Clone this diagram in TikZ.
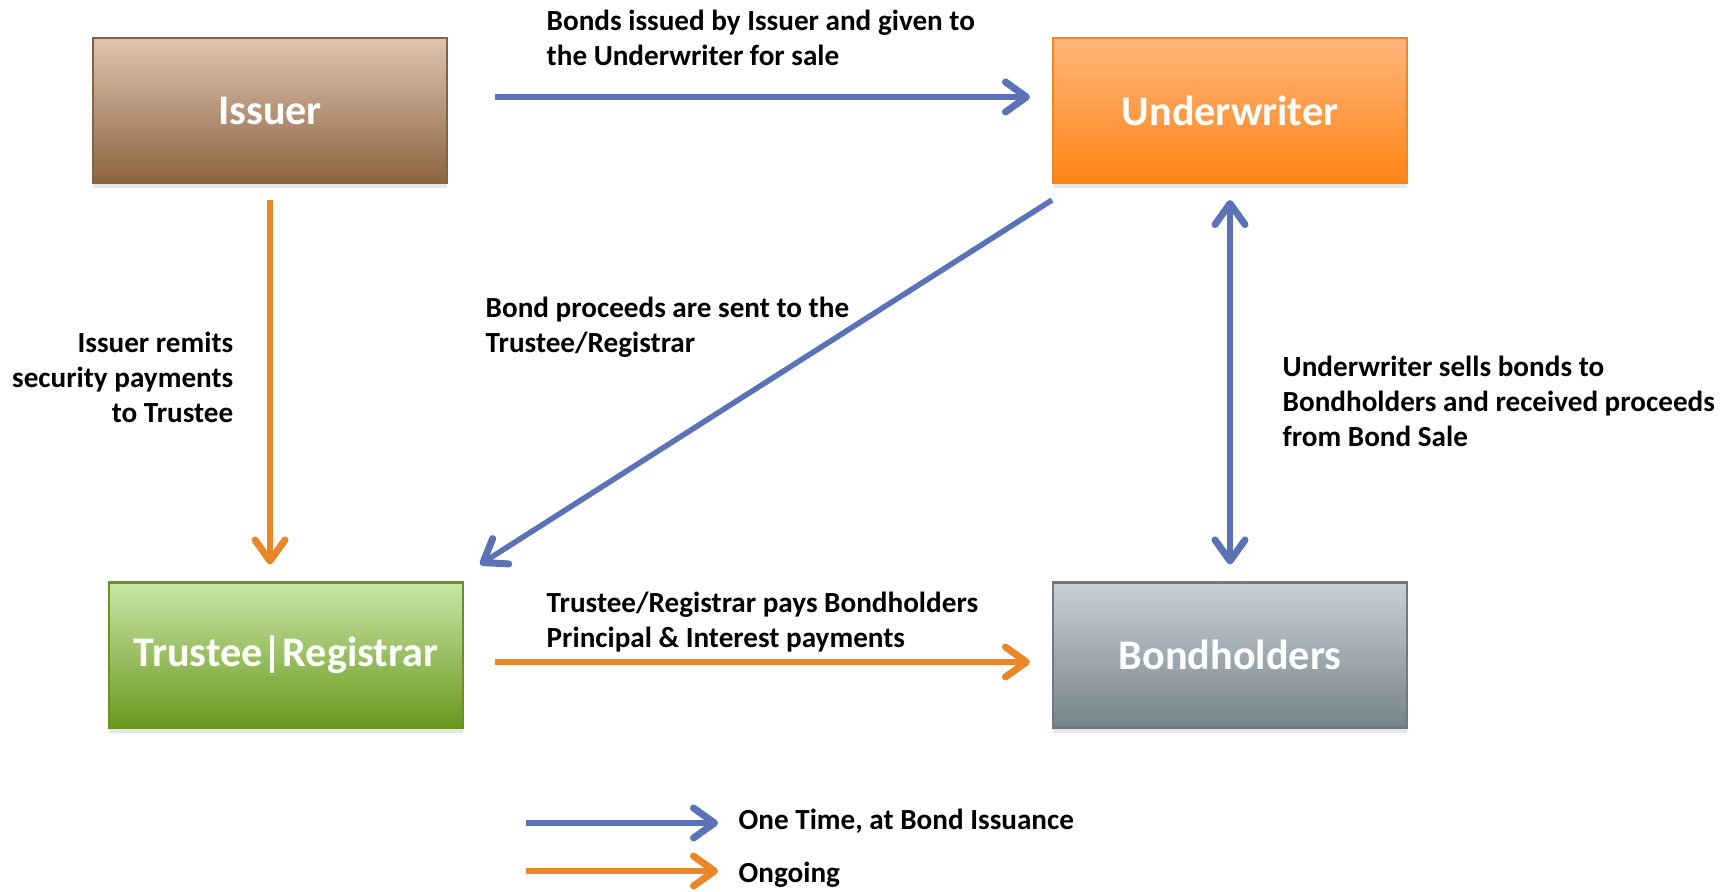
\documentclass[tikz,border=0pt]{standalone}
\usepackage{fontspec}
\setmainfont{Carlito}
\usetikzlibrary{arrows.meta,shadows,positioning}

\definecolor{onceblue}{RGB}{92,114,182}
\definecolor{ongoingorange}{RGB}{232,134,40}
\definecolor{issuertop}{RGB}{223,196,177}
\definecolor{issuerbot}{RGB}{140,100,63}
\definecolor{issuerline}{RGB}{135,98,62}
\definecolor{undertop}{RGB}{255,181,124}
\definecolor{underbot}{RGB}{255,132,20}
\definecolor{underline}{RGB}{240,134,30}
\definecolor{trusteetop}{RGB}{200,230,166}
\definecolor{trusteebot}{RGB}{106,152,30}
\definecolor{trusteeline}{RGB}{104,148,30}
\definecolor{holderstop}{RGB}{200,209,216}
\definecolor{holdersbot}{RGB}{118,131,137}
\definecolor{holdersline}{RGB}{110,122,128}

\begin{document}
\begin{tikzpicture} [x=0.1mm,y=-0.1mm,
     box/.style={draw, line width=0.6pt, minimum width=35.4mm, minimum height=14.5mm,
       text=white, font=\fontsize{12}{14}\selectfont\bfseries,
       drop shadow={shadow xshift=0mm, shadow yshift=-0.5mm, opacity=0.2}},
     barb/.tip={Straight Barb[length=2.1mm,width=3mm,line width=0.7mm,line cap=round,line join=round]},
     once/.style={-barb, line width=0.55mm, draw=onceblue},
     ongoing/.style={-barb, line width=0.55mm, draw=ongoingorange},
     lbl/.style={inner sep=0pt, font=\fontsize{8.3}{9.96}\selectfont\bfseries}
   ]
\useasboundingbox (0,0) rectangle (1734,892);

\node (issuer) [box, top color=issuertop, bottom color=issuerbot, draw=issuerline] at (270,110.5) {Issuer};
\node (under) [box, top color=undertop, bottom color=underbot, draw=underline] at (1230,110.5) {Underwriter};
\node (trustee) [box, top color=trusteetop, bottom color=trusteebot, draw=trusteeline] at (286,655) {Trustee|Registrar};
\node (holders) [box, top color=holderstop, bottom color=holdersbot, draw=holdersline] at (1230,655) {Bondholders};

% flows between the parties
\draw [once, shorten <=4.7mm, shorten >=2.2mm] ([yshift=1.35mm]issuer.east) -- ([yshift=1.35mm]under.west);
\draw [ongoing, shorten <=1.6mm, shorten >=1.7mm] (issuer.south) -- (issuer.south |- trustee.north);
\draw [once] ([yshift=-1.6mm]under.south west) -- ([shift={(1.6mm,1.7mm)}]trustee.north east);
\draw [once, barb-barb, shorten <=1.6mm, shorten >=1.7mm] (under.south) -- (holders.north);
\draw [ongoing, shorten <=3.1mm, shorten >=2.2mm] ([yshift=-0.7mm]trustee.east) -- ([yshift=-0.7mm]holders.west);

\node (issuelbl) [lbl, anchor=north west, align=left] at (546,9) {Bonds issued by Issuer and given to\\the Underwriter for sale};
\node (remitlbl) [lbl, anchor=north east, align=right] at (234,331) {Issuer remits\\security payments\\to Trustee};
\node (proceedlbl) [lbl, anchor=north west, align=left] at (485,296) {Bond proceeds are sent to the\\Trustee/Registrar};
\node (selllbl) [lbl, anchor=north west, align=left] at (1282,355) {Underwriter sells bonds to\\Bondholders and received proceeds\\from Bond Sale};
\node (paylbl) [lbl, anchor=north west, align=left] at (546,591) {Trustee/Registrar pays Bondholders\\Principal \& Interest payments};

% legend
\coordinate (onceA) at (526,823);
\coordinate (onceB) at (718,823);
\coordinate (ongoingA) at (526,871);
\coordinate (ongoingB) at (718,871);
\draw [once] (onceA) -- (onceB);
\draw [ongoing] (ongoingA) -- (ongoingB);
\node (oncelbl) [lbl, anchor=base west] at (738,829) {One Time, at Bond Issuance};
\node (ongoinglbl) [lbl, anchor=base west] at (738,882) {Ongoing};
\end{tikzpicture}
\end{document}
